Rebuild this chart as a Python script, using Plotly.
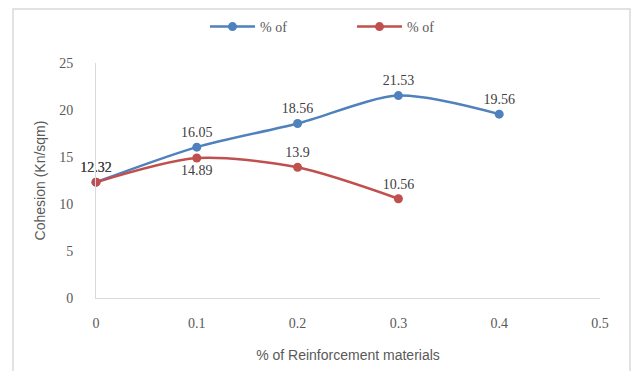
import plotly.graph_objects as go

x_blue = [0, 0.1, 0.2, 0.3, 0.4]
y_blue = [12.32, 16.05, 18.56, 21.53, 19.56]
x_red = [0, 0.1, 0.2, 0.3]
y_red = [12.32, 14.89, 13.9, 10.56]
blue_label_pos = ["top center"] * 5
red_label_pos = ["top center", "bottom center", "top center", "top center"]
series_names = ["% of", "% of"]
x_ticks = [0, 0.1, 0.2, 0.3, 0.4, 0.5]
y_ticks = [0, 5, 10, 15, 20, 25]

BLUE = "#4F81BD"
RED = "#C0504D"
label_font = dict(family="Liberation Serif", size=14, color="#404040")

fig = go.Figure()
fig.add_trace(go.Scatter(
    x=x_blue, y=y_blue, name=series_names[0], mode="lines+markers+text",
    line=dict(color=BLUE, width=2.5, shape="spline", smoothing=0.8),
    marker=dict(color=BLUE, size=9),
    text=[str(v) for v in y_blue], textposition=blue_label_pos,
    textfont=label_font, cliponaxis=False,
))
fig.add_trace(go.Scatter(
    x=x_red, y=y_red, name=series_names[1], mode="lines+markers+text",
    line=dict(color=RED, width=2.5, shape="spline", smoothing=0.8),
    marker=dict(color=RED, size=9),
    text=[str(v) for v in y_red], textposition=red_label_pos,
    textfont=label_font, cliponaxis=False,
))

fig.update_layout(
    width=637, height=371,
    margin=dict(l=96, r=37, t=63, b=73, autoexpand=False),
    paper_bgcolor="white", plot_bgcolor="white",
    showlegend=True,
    legend=dict(orientation="h", x=(205 - 96) / 504, xanchor="left", y=(298 - 27) / 235, yanchor="middle",
                bgcolor="rgba(0,0,0,0)",
                font=dict(family="Liberation Serif", size=14, color="#595959"),
                entrywidth=87, itemwidth=45),
    xaxis=dict(range=[0, 0.5], tickvals=x_ticks, ticktext=[str(t) for t in x_ticks],
               showgrid=False, zeroline=False, showline=True, linecolor="#D9D9D9",
               linewidth=1, ticks="", ticklabelstandoff=12,
               tickfont=dict(family="Liberation Serif", size=14, color="#595959"),
               title=dict(text="% of Reinforcement materials",
                          font=dict(family="Liberation Sans", size=14, color="#595959"),
                          standoff=20)),
    yaxis=dict(range=[0, 25], tickvals=y_ticks, showgrid=False, zeroline=False,
               showline=True, linecolor="#D9D9D9", linewidth=1, ticks="",
               ticklabelstandoff=19,
               tickfont=dict(family="Liberation Serif", size=14, color="#595959"),
               title=dict(text="Cohesion (Kn/sqm)",
                          font=dict(family="Liberation Sans", size=14, color="#595959"),
                          standoff=10)),
    shapes=[dict(type="rect", xref="paper", yref="paper",
                 x0=(13 - 96) / 504, x1=(630 - 96) / 504,
                 y0=-0.5, y1=(298 - 9) / 235,
                 line=dict(color="#D9D9D9", width=1.5), layer="below")],
)

fig.write_html("out.html", post_script="document.body.style.margin='0';",
               config={"displayModeBar": False})
